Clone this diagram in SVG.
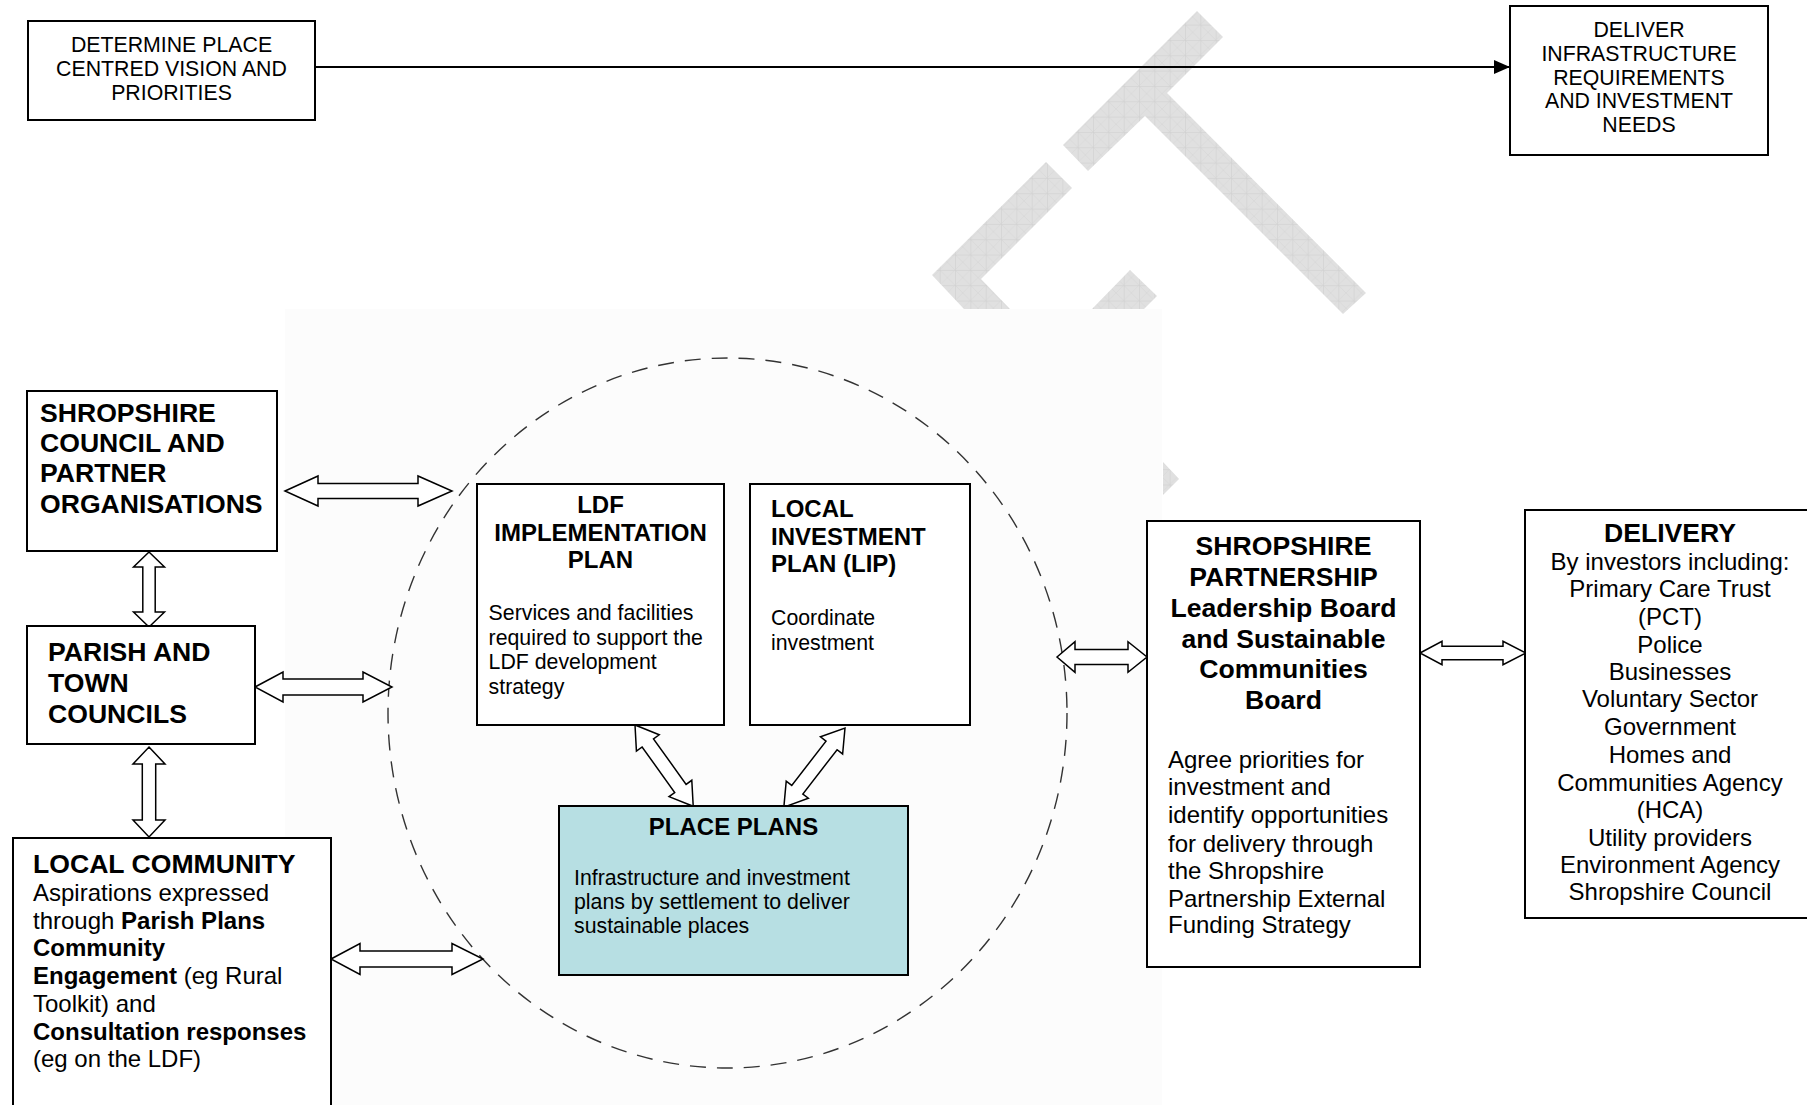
<svg xmlns="http://www.w3.org/2000/svg" width="1807" height="1105" viewBox="0 0 1807 1105">
<defs>
<pattern id="wm" patternUnits="userSpaceOnUse" x="4.6" y="9.3" width="15.33" height="15.33">
<rect width="15.33" height="15.33" fill="#e0e0e0"/>
<path d="M0,0 H15.33 M0,0 V15.33" stroke="#c6c6c6" stroke-width="0.8" fill="none"/>
<path d="M0,0 L15.33,15.33 M15.33,0 L0,15.33" stroke="#d2d2d2" stroke-width="0.5" fill="none"/>
</pattern>
<marker id="ah" markerUnits="userSpaceOnUse" markerWidth="16" markerHeight="14" refX="16" refY="7" orient="auto">
<path d="M0,0 L16,7 L0,14 Z" fill="#000"/>
</marker>
</defs>
<style>
.box{fill:#fff;stroke:#000;stroke-width:2}
.t{font-family:"Liberation Sans",Arial,sans-serif;fill:#000}
.c21{font-size:21.3px}
.c24{font-size:24px}
.b26{font-size:26.6px;font-weight:bold}
.b23{font-size:24px;font-weight:bold}
.mid{text-anchor:middle}
.dbl{fill:#fff;stroke:#000;stroke-width:1.5;stroke-linejoin:miter}
.wm{fill:url(#wm)}
</style>
<rect width="1807" height="1105" fill="#fff"/>
<g id="watermark">
<polygon class="wm" points="1197,11 1223,37 1167,93 1366,293 1343,314 1145,116 1088,171 1063,145"/>
<polygon class="wm" points="1046,162 1072,188 981,279 1010,309 964,309 932,275"/>
<polygon class="wm" points="1130,270 1157,296 1144,309 1092,309"/>
<polygon class="wm" points="1163,462 1179,479 1163,495"/>
</g>
<rect id="backdrop" x="285" y="309" width="877" height="796" fill="#fcfcfc"/>
<g id="scope-circle">
<ellipse cx="727.5" cy="713" rx="339.5" ry="355" fill="none" stroke="#333" stroke-width="1.4" stroke-dasharray="16 11"/>
</g>
<g id="connectors">
<line x1="315" y1="67" x2="1510" y2="67" stroke="#000" stroke-width="2.2" marker-end="url(#ah)"/>
<path class="dbl" d="M285,491 L318,476 L318,483.5 L418,483.5 L418,476 L452,491 L418,506 L418,498.5 L318,498.5 L318,506 Z"/>
<path class="dbl" d="M255,687 L283,672 L283,679 L363,679 L363,672 L392,687 L363,702 L363,695 L283,695 L283,702 Z"/>
<path class="dbl" d="M331,959 L360,943.5 L360,951 L452,951 L452,943.5 L483,959 L452,974.5 L452,967 L360,967 L360,974.5 Z"/>
<path class="dbl" d="M149,552 L164.5,567 L155.2,567 L155.2,612 L164.5,612 L149,627 L133.5,612 L142.8,612 L142.8,567 L133.5,567 Z"/>
<path class="dbl" d="M149,747 L165,764 L155.7,764 L155.7,820 L165,820 L149,837 L133,820 L142.3,820 L142.3,764 L133,764 Z"/>
<path class="dbl" d="M1057,657 L1075,641.7 L1075,649.5 L1128,649.5 L1128,641.7 L1147,657 L1128,672.3 L1128,664.5 L1075,664.5 L1075,672.3 Z"/>
<path class="dbl" d="M1420,653 L1442,641.3 L1442,646.3 L1503,646.3 L1503,641.3 L1526,653 L1503,664.7 L1503,659.7 L1442,659.7 L1442,664.7 Z"/>
<path class="dbl" transform="translate(635,725) rotate(54.4)" d="M0,0 L22,-14 L22,-7 L78,-7 L78,-14 L100,0 L78,14 L78,7 L22,7 L22,14 Z"/>
<path class="dbl" transform="translate(845,728) rotate(127.7)" d="M0,0 L22,-14 L22,-7 L78,-7 L78,-14 L100,0 L78,14 L78,7 L22,7 L22,14 Z"/>
</g>
<g id="determine">
<rect class="box" x="28" y="21" width="287" height="99"/>
<text class="t c21 mid" x="171.5" y="52">DETERMINE PLACE</text>
<text class="t c21 mid" x="171.5" y="76">CENTRED VISION AND</text>
<text class="t c21 mid" x="171.5" y="100">PRIORITIES</text>
</g>
<g id="deliver">
<rect class="box" x="1510" y="6" width="258" height="149"/>
<text class="t c21 mid" x="1639" y="37">DELIVER</text>
<text class="t c21 mid" x="1639" y="61">INFRASTRUCTURE</text>
<text class="t c21 mid" x="1639" y="84.5">REQUIREMENTS</text>
<text class="t c21 mid" x="1639" y="108">AND INVESTMENT</text>
<text class="t c21 mid" x="1639" y="132">NEEDS</text>
</g>
<g id="shropshire-council">
<rect class="box" x="27" y="391" width="250" height="160"/>
<text class="t b26" x="40" y="422">SHROPSHIRE</text>
<text class="t b26" x="40" y="452">COUNCIL AND</text>
<text class="t b26" x="40" y="482">PARTNER</text>
<text class="t b26" x="40" y="513">ORGANISATIONS</text>
</g>
<g id="parish">
<rect class="box" x="27" y="626" width="228" height="118"/>
<text class="t b26" x="48" y="661">PARISH AND</text>
<text class="t b26" x="48" y="692">TOWN</text>
<text class="t b26" x="48" y="723">COUNCILS</text>
</g>
<g id="local-community">
<rect class="box" x="13" y="838" width="318" height="280"/>
<text class="t b26" x="33" y="873">LOCAL COMMUNITY</text>
<text class="t c24" x="33" y="901">Aspirations expressed</text>
<text class="t c24" x="33" y="929">through <tspan font-weight="bold">Parish Plans</tspan></text>
<text class="t c24" x="33" y="956" font-weight="bold">Community</text>
<text class="t c24" x="33" y="984"><tspan font-weight="bold">Engagement</tspan> (eg Rural</text>
<text class="t c24" x="33" y="1012">Toolkit) and</text>
<text class="t c24" x="33" y="1040" font-weight="bold">Consultation responses</text>
<text class="t c24" x="33" y="1067">(eg on the LDF)</text>
</g>
<g id="ldf">
<rect class="box" x="477" y="484" width="247" height="241"/>
<text class="t b23 mid" x="600.5" y="513">LDF</text>
<text class="t b23 mid" x="600.5" y="540.5">IMPLEMENTATION</text>
<text class="t b23 mid" x="600.5" y="568">PLAN</text>
<text class="t c21" x="488.6" y="620">Services and facilities</text>
<text class="t c21" x="488.6" y="645">required to support the</text>
<text class="t c21" x="488.6" y="669">LDF development</text>
<text class="t c21" x="488.6" y="694">strategy</text>
</g>
<g id="lip">
<rect class="box" x="750" y="484" width="220" height="241"/>
<text class="t b23" x="771" y="517">LOCAL</text>
<text class="t b23" x="771" y="545">INVESTMENT</text>
<text class="t b23" x="771" y="572">PLAN (LIP)</text>
<text class="t c21" x="771" y="625">Coordinate</text>
<text class="t c21" x="771" y="650">investment</text>
</g>
<g id="place-plans">
<rect class="box" x="559" y="806" width="349" height="169" style="fill:#b7dfe3"/>
<text class="t b23 mid" x="733.5" y="835">PLACE PLANS</text>
<text class="t c21" x="574" y="885">Infrastructure and investment</text>
<text class="t c21" x="574" y="909">plans by settlement to deliver</text>
<text class="t c21" x="574" y="933">sustainable places</text>
</g>
<g id="shropshire-partnership">
<rect class="box" x="1147" y="521" width="273" height="446"/>
<text class="t b26 mid" x="1283.5" y="555">SHROPSHIRE</text>
<text class="t b26 mid" x="1283.5" y="586">PARTNERSHIP</text>
<text class="t b26 mid" x="1283.5" y="617">Leadership Board</text>
<text class="t b26 mid" x="1283.5" y="648">and Sustainable</text>
<text class="t b26 mid" x="1283.5" y="678">Communities</text>
<text class="t b26 mid" x="1283.5" y="709">Board</text>
<text class="t c24" x="1168" y="768">Agree priorities for</text>
<text class="t c24" x="1168" y="795">investment and</text>
<text class="t c24" x="1168" y="823">identify opportunities</text>
<text class="t c24" x="1168" y="852">for delivery through</text>
<text class="t c24" x="1168" y="879">the Shropshire</text>
<text class="t c24" x="1168" y="907">Partnership External</text>
<text class="t c24" x="1168" y="933">Funding Strategy</text>
</g>
<g id="delivery">
<rect class="box" x="1525" y="510" width="290" height="408"/>
<text class="t b26 mid" x="1670" y="542">DELIVERY</text>
<text class="t c24 mid" x="1670" y="570">By investors including:</text>
<text class="t c24 mid" x="1670" y="597">Primary Care Trust</text>
<text class="t c24 mid" x="1670" y="625">(PCT)</text>
<text class="t c24 mid" x="1670" y="653">Police</text>
<text class="t c24 mid" x="1670" y="680">Businesses</text>
<text class="t c24 mid" x="1670" y="707">Voluntary Sector</text>
<text class="t c24 mid" x="1670" y="735">Government</text>
<text class="t c24 mid" x="1670" y="763">Homes and</text>
<text class="t c24 mid" x="1670" y="791">Communities Agency</text>
<text class="t c24 mid" x="1670" y="818">(HCA)</text>
<text class="t c24 mid" x="1670" y="846">Utility providers</text>
<text class="t c24 mid" x="1670" y="873">Environment Agency</text>
<text class="t c24 mid" x="1670" y="900">Shropshire Council</text>
</g>
</svg>
